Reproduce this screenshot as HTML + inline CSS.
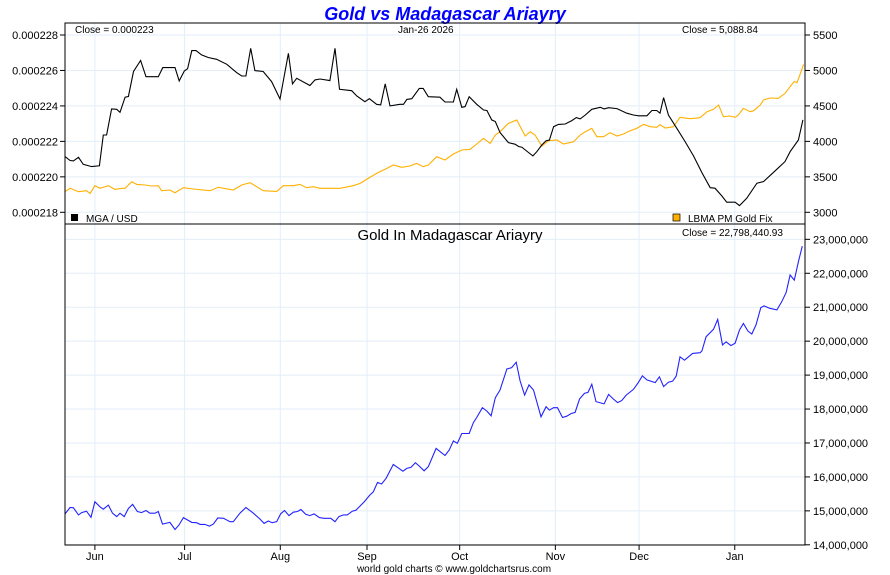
<!DOCTYPE html>
<html><head><meta charset="utf-8"><style>
body{margin:0;background:#fff;width:890px;height:575px;overflow:hidden}
svg{display:block;font-family:"Liberation Sans",Arial,sans-serif}
</style></head><body>
<svg id="c" width="890" height="575">
<text x="445" y="20" text-anchor="middle" font-size="18" font-weight="bold" font-style="italic" fill="#0000ff">Gold vs Madagascar Ariayry</text>
<g id="grid"></g>
<g id="marks"></g>
<rect x="65" y="23" width="740" height="522" fill="none" stroke="#000" stroke-width="1"/>
<line x1="65" y1="224" x2="805" y2="224" stroke="#000"/>
<text x="75" y="33" font-size="10">Close = 0.000223</text>
<text x="398" y="33" font-size="10">Jan-26  2026</text>
<text x="682" y="33" font-size="10">Close = 5,088.84</text>
<rect x="71" y="214" width="7" height="7" fill="#000"/>
<text x="86" y="222" font-size="10">MGA / USD</text>
<rect x="673" y="214" width="7" height="7" fill="#ffb000" stroke="#000" stroke-width="0.7"/>
<text x="688" y="222" font-size="10">LBMA PM Gold Fix</text>
<text x="450" y="240" text-anchor="middle" font-size="15">Gold In Madagascar Ariayry</text>
<text x="682" y="236" font-size="10">Close = 22,798,440.93</text>
<text x="454" y="572" text-anchor="middle" font-size="10">world gold charts © www.goldchartsrus.com</text>
</svg>
<script>
const goldDays=[0,1.7,4.5,7.2,8.4,10,11.7,14.5,16.7,19,20.1,22.3,24,26.8,29,31.2,32.3,35.1,36.8,39.6,42.9,48.5,51.3,56.3,59.1,61.9,64.1,66.3,70.8,73,76.4,78.6,80.8,83.1,85.3,92,96.4,98.7,101.4,104.2,107,109.8,112.6,115.4,117.6,119.8,121.5,124.3,127.1,129.9,132.7,135.5,137.7,140,142.2,143.9,145.5,148.3,151.1,153.9,155.6,157.2,159.5,161.7,164.5,166.7,170.1,172.3,174,176.2,177.9,180.1,182.3,184.6,186.8,189,191.2,193.5,195.7,197.9,199,200.7,203.5,205.7,209.1,212.4,214.7,216.9,218.6,220.2,222.5,224.1,225.2,226.9,229.1,230.3,232.5,233.6,235.8,238.6,240.8,242.5,243.9,244.8,246.4,247];
const goldVals=[3291,3338,3291,3305,3267,3375,3338,3375,3323,3338,3338,3432,3394,3385,3371,3375,3305,3314,3276,3347,3328,3305,3352,3314,3385,3418,3361,3305,3295,3375,3375,3394,3347,3361,3338,3338,3375,3408,3478,3549,3605,3667,3634,3653,3690,3643,3667,3784,3737,3822,3878,3888,3963,4043,3972,4090,4137,4254,4301,4076,4137,4090,3935,4010,4019,3963,3996,4090,4137,4183,4066,4066,4122,4076,4104,4151,4183,4240,4207,4198,4235,4188,4207,4339,4320,4334,4419,4452,4513,4348,4358,4339,4372,4466,4419,4433,4513,4583,4611,4607,4677,4771,4846,4828,5006,5086];
const mgaDays=[0,1.7,2.8,4.5,6.1,8.9,11.5,12.8,13.9,15.6,17.3,18.4,20.1,21.2,22.9,25.3,27.1,31.2,32.7,36.8,38.2,39.9,41,42.4,43.8,45.7,47.9,50.7,54.1,57.4,59.1,60.5,62.1,63.5,66.3,69.1,71.9,74.7,76.1,77.5,81.9,83.6,85.3,88.6,90.3,91.8,95.9,97.6,100.3,101.8,104.2,105.6,107.1,108.7,112,113.2,114.3,116,118.5,119.8,121.5,125.4,127.1,129.9,131,132.7,133.8,135.2,137.7,140,141.1,142.7,143.9,145.5,148.3,150.5,151.7,152.8,155,156.5,157.8,159.5,160.9,162,163.4,165,167.3,169.5,171,172.3,174,176.2,179,180.3,181.8,184.6,187.9,190.1,191.8,194.6,196.3,197.9,199,200.2,201.8,204.6,207.4,210.2,213,215.8,217.4,219.7,221.3,224.1,225.6,228,231.4,233.6,238.1,240.8,242.5,245.3,246.8];
const mgaVals=[221.14,220.92,220.9,221.1,220.71,220.58,220.62,222.36,222.36,223.83,223.81,223.64,224.49,224.53,225.94,226.56,225.65,225.65,226.16,226.16,225.41,225.97,226.1,227.12,227.12,226.88,226.73,226.63,226.35,225.88,225.69,225.69,227.25,225.99,225.94,225.37,224.39,226.97,225.24,225.56,225.15,225.47,225.52,225.43,227.25,224.94,224.86,224.56,224.24,224.41,224.09,224.06,225.24,224,224.09,224.09,224.37,224.41,224.99,224.99,224.52,224.49,224.22,224.22,224.94,223.92,223.96,224.52,224.09,223.77,223.74,223.21,223.12,222.5,221.93,221.84,221.71,221.67,221.37,221.18,221.42,221.8,222.04,222.08,222.83,222.96,222.98,223.17,223.34,223.27,223.49,223.81,223.92,223.83,223.9,223.85,223.59,223.49,223.44,223.44,223.74,223.74,223.59,224.47,223.49,222.74,221.99,221.18,220.24,219.39,219.36,218.92,218.57,218.57,218.38,218.79,219.64,219.73,220.43,220.86,221.42,222.08,223.21].map(v=>v*1e-6);
const mgDays=[0,1.7,2.8,4.5,5.6,7.2,8.7,10,11.7,12.8,14.5,15.9,17.3,18.4,19.8,21.2,22.6,24.2,25.6,27.1,28.4,30.1,31.2,32.6,35.1,36.8,38.1,39.6,42.4,44,45.2,46.8,48.3,49.6,51.1,53,55.2,56.3,58.5,60.5,63,65.2,66.6,68,69.3,70.8,72.1,73.4,74.9,76.4,77.8,78.9,80.5,81.9,83.3,85.1,86.6,88.9,90.3,91.6,93.1,94.4,96.1,97.3,100.1,102,103.1,104.5,105.9,107.4,109.8,113,114.3,115.7,117.2,118.5,120.1,121.5,124.1,127.1,128.5,129.9,131.2,132.7,135.2,136.6,137.7,139.6,141.1,142.5,143.9,145.5,147.8,149.4,150.9,152.2,153.7,155.2,156.7,159.2,160.9,162,163.4,164.7,166.4,167.8,169.3,170.6,172.1,173.7,174.9,176.2,177.6,180.3,181.8,183.2,184.8,186.2,187.7,190.1,191.6,193.1,194.6,197.4,198.8,200.2,201.8,203.2,204.4,205.7,207.2,209.9,212.4,213,214.4,216.9,218.3,219.9,221.1,222.7,224.1,225.6,226.9,228.4,229.7,231.1,232.7,233.8,235.6,238.1,239.7,241.2,242.5,243.9,245.3,246.6];
const mgVals=[14.91,15.1,15.09,14.88,14.95,14.99,14.81,15.27,15.12,15.05,15.17,14.93,14.83,14.93,14.83,15.07,15.19,14.98,14.95,15.01,14.93,14.93,14.98,14.61,14.66,14.45,14.58,14.8,14.66,14.65,14.6,14.6,14.55,14.61,14.79,14.78,14.68,14.68,14.93,15.1,14.93,14.76,14.63,14.7,14.65,14.68,14.91,15.01,14.86,14.96,14.98,15.04,14.9,14.86,14.91,14.8,14.78,14.78,14.68,14.83,14.88,14.88,14.99,15.02,15.27,15.47,15.56,15.84,15.79,15.96,16.37,16.17,16.25,16.28,16.42,16.32,16.18,16.3,16.84,16.63,16.79,17.06,16.99,17.28,17.28,17.6,17.75,18.04,17.94,17.8,18.33,18.56,19.18,19.22,19.38,18.83,18.41,18.71,18.56,17.77,18.07,17.97,18.04,18.04,17.75,17.79,17.87,17.9,18.3,18.46,18.49,18.73,18.22,18.15,18.43,18.31,18.19,18.25,18.41,18.58,18.76,18.98,18.86,18.78,18.95,18.66,18.79,18.82,18.97,19.54,19.44,19.64,19.66,19.71,20.13,20.35,20.64,19.89,19.98,19.87,19.94,20.33,20.52,20.3,20.21,20.48,20.99,21.04,20.97,20.92,21.16,21.44,21.95,21.8,22.34,22.8].map(v=>v*1e6);
const monthLabels=["Jun","Jul","Aug","Sep","Oct","Nov","Dec","Jan"];
const monthDays=[10,40,72,101,132,164,192,224];
const goldTicks=[3000,3500,4000,4500,5000,5500];
const mgaTicks=[0.000218,0.000220,0.000222,0.000224,0.000226,0.000228];
const mgTicks=[14e6,15e6,16e6,17e6,18e6,19e6,20e6,21e6,22e6,23e6];

const NS="http://www.w3.org/2000/svg";
const X=d=>65+d*2.99;
const Yg=v=>212.3-(v-3000)/500*35.46;
const Ym=v=>212.3-(v-0.000218)/0.000002*35.46;
const Yb=v=>544.8-(v-14e6)/1e6*33.94;
const grid=document.getElementById('grid'),marks=document.getElementById('marks'),svg=document.getElementById('c');
function mk(t,a,p){const e=document.createElementNS(NS,t);for(const k in a)e.setAttribute(k,a[k]);(p||svg).appendChild(e);return e;}
goldTicks.forEach(v=>{const y=Yg(v);
 const l=mk('line',{x1:65,x2:805,y1:y,y2:y,stroke:'#e3eef8'},grid);
 
 
 mk('line',{x1:805,x2:810,y1:y,y2:y,stroke:'#000'});
 const t=mk('text',{x:813,y:y+4,'font-size':11});t.textContent=v;
 
 });
mgaTicks.forEach(v=>{const y=Ym(v);
 mk('line',{x1:60,x2:65,y1:y,y2:y,stroke:'#000'});
 const t=mk('text',{x:58,y:y+4,'font-size':11,'text-anchor':'end'});t.textContent=v.toFixed(6);
 
 });
mgTicks.forEach(v=>{const y=Yb(v);
 const l=mk('line',{x1:65,x2:805,y1:y,y2:y,stroke:'#e3eef8'},grid);
 
 
 mk('line',{x1:805,x2:810,y1:y,y2:y,stroke:'#000'});
 const t=mk('text',{x:813,y:y+4,'font-size':11});t.textContent=v.toLocaleString('en-US');
 
 });
monthDays.forEach((d,i)=>{const x=X(d);
 const l=mk('line',{x1:x,x2:x,y1:23,y2:545,stroke:'#e3eef8'},grid);
 
 
 mk('line',{x1:x,x2:x,y1:545,y2:550,stroke:'#000'});
 const t=mk('text',{x:x,y:560,'font-size':11,'text-anchor':'middle'});t.textContent=monthLabels[i];
 
 });
function line(days,vals,Y,col){return mk('polyline',{points:days.map((d,i)=>X(d).toFixed(1)+','+Y(vals[i]).toFixed(1)).join(' '),fill:'none',stroke:col,'stroke-width':1.1},marks);}
const g=line(goldDays,goldVals,Yg,'#ffb000');


const m=line(mgaDays,mgaVals,Ym,'#000');


const b=line(mgDays,mgVals,Yb,'#2222ff');


</script>
</body></html>
